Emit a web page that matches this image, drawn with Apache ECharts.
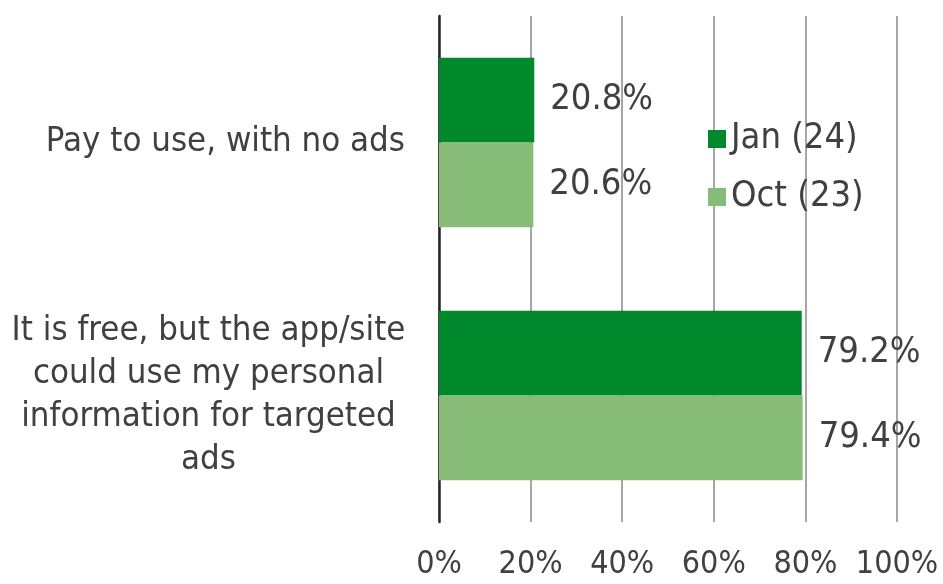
<!DOCTYPE html>
<html>
<head>
<meta charset="utf-8">
<script src="https://cdn.jsdelivr.net/npm/echarts@6/dist/echarts.min.js"></script>
<style>
  html, body { margin: 0; padding: 0; background: #fff; }
  #chart { width: 943px; height: 584px; }
</style>
</head>
<body>
<div id="chart"></div>
<script>
  var categories = ['Pay to use, with no ads', 'It is free, but the app/site\ncould use my personal\ninformation for targeted\nads'];
  var seriesNames = ['Jan (24)', 'Oct (23)'];
  var janValues = [20.8, 79.2];
  var octValues = [20.6, 79.4];
  var colors = ['#00882d', '#86bc77'];

  var font = '"DejaVu Sans Condensed", "DejaVu Sans", sans-serif';
  var textColor = '#404040';

  var chart = echarts.init(document.getElementById('chart'));

  var option = {
    animation: false,
    color: colors,
    textStyle: { fontFamily: font },
    legend: {
      orient: 'vertical',
      left: 703,
      top: 116,
      itemWidth: 18,
      itemHeight: 18,
      itemGap: 22,
      icon: 'rect',
      textStyle: { fontSize: 36, color: textColor, fontFamily: font },
      data: seriesNames
    },
    grid: {
      left: 439,
      right: 46,
      top: 16,
      bottom: 62
    },
    xAxis: {
      type: 'value',
      min: 0,
      max: 100,
      interval: 20,
      axisLine: { show: false },
      axisTick: { show: false },
      splitLine: { lineStyle: { color: '#a6a6a6', width: 2 } },
      axisLabel: {
        formatter: '{value}%',
        fontSize: 32,
        color: textColor,
        fontFamily: font,
        margin: 27
      }
    },
    yAxis: {
      type: 'category',
      inverse: true,
      data: categories,
      axisLine: { show: true, lineStyle: { color: '#262626', width: 2.5 } },
      axisTick: { show: false },
      axisLabel: {
        margin: 34,
        fontSize: 34.5,
        color: textColor,
        fontFamily: font,
        lineHeight: 43,
        formatter: function (val) {
          var lines = val.split('\n');
          if (lines.length === 1) return '{p|' + val + '}';
          return lines.map(function (l) { return '{c|' + l + '}'; }).join('\n');
        },
        rich: {
          p: { fontSize: 34.5, color: textColor, fontFamily: font, lineHeight: 43 },
          c: { fontSize: 34.5, color: textColor, fontFamily: font, lineHeight: 43, width: 393, align: 'center' }
        }
      }
    },
    series: [
      {
        name: seriesNames[0],
        type: 'bar',
        data: janValues,
        barGap: '0%',
        barCategoryGap: '33%',
        label: {
          show: true,
          position: 'right',
          distance: 16,
          formatter: '{c}%',
          fontSize: 36,
          color: textColor,
          fontFamily: font
        }
      },
      {
        name: seriesNames[1],
        type: 'bar',
        data: octValues,
        barGap: '0%',
        barCategoryGap: '33%',
        label: {
          show: true,
          position: 'right',
          distance: 16,
          formatter: '{c}%',
          fontSize: 36,
          color: textColor,
          fontFamily: font
        }
      }
    ]
  };

  chart.setOption(option);
</script>
</body>
</html>
